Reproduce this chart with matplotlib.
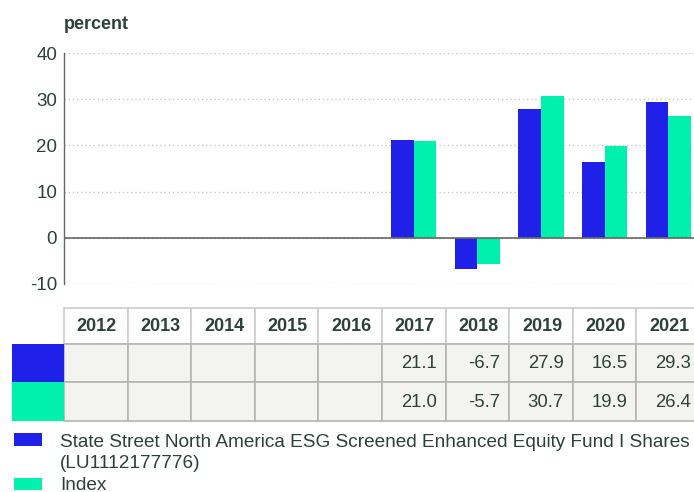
import matplotlib
matplotlib.use("Agg")
import matplotlib.pyplot as plt
from matplotlib.patches import Rectangle
import numpy as np

plt.rcParams["font.family"] = ["Liberation Sans", "DejaVu Sans"]
plt.rcParams["axes.unicode_minus"] = False

years = ["2012", "2013", "2014", "2015", "2016", "2017", "2018", "2019", "2020", "2021"]
fund = [None, None, None, None, None, 21.1, -6.7, 27.9, 16.5, 29.3]
index = [None, None, None, None, None, 21.0, -5.7, 30.7, 19.9, 26.4]
fund_label = "State Street North America ESG Screened Enhanced Equity Fund I Shares\n(LU1112177776)"
index_label = "Index"

blue = "#1f21e8"
green = "#00f0ae"
text_c = "#2c4239"
grid_c = "#c8c8c8"
cell_bg = "#f3f3ef"
cell_edge = "#b4b4b4"

W, H = 694, 492
fig = plt.figure(figsize=(W / 100, H / 100), dpi=100)


def fx(px):
    return px / W


def fy(py):
    return 1 - py / H


col_w = 63.6
x0 = 64

# bar chart (extends slightly past the right edge like the original)
ax = fig.add_axes([fx(x0), fy(284), fx(col_w * len(years)), fy(53) - fy(284)])
x = np.arange(len(years))
bw = 0.355
fv = [np.nan if v is None else v for v in fund]
iv = [np.nan if v is None else v for v in index]
ax.bar(x - bw / 2, fv, width=bw, color=blue, zorder=3)
ax.bar(x + bw / 2, iv, width=bw, color=green, zorder=3)
ax.set_xlim(-0.5, len(years) - 0.5)
ax.set_ylim(-10, 40)
ax.set_yticks([-10, 0, 10, 20, 30, 40])
ax.set_xticks([])
ax.tick_params(axis="y", length=0, labelsize=13.5, labelcolor=text_c, pad=5)
ax.grid(axis="y", color=grid_c, linestyle=(0, (1, 2)), linewidth=1, zorder=0)
ax.axhline(0, color="#666666", linewidth=1.2, zorder=4)
for s in ["top", "right", "bottom"]:
    ax.spines[s].set_visible(False)
ax.spines["left"].set_color("#666666")
ax.spines["left"].set_linewidth(1)
fig.text(fx(64), fy(29), "percent", fontsize=13, fontweight="bold", color=text_c,
         ha="left", va="baseline")

# data table below the chart
tab = fig.add_axes([0, 0, 1, 1], facecolor="none")
tab.set_xlim(0, W)
tab.set_ylim(H, 0)
tab.axis("off")
rows_y = [307.5, 343.7, 382.3, 421]
for i, yr in enumerate(years):
    cx = x0 + i * col_w
    tab.add_patch(Rectangle((cx, rows_y[0]), col_w, rows_y[1] - rows_y[0],
                            facecolor="white", edgecolor="#cccccc", linewidth=1.2))
    tab.text(cx + col_w / 2 + 1, (rows_y[0] + rows_y[1]) / 2 + 1, yr, ha="center", va="center",
             fontsize=13, fontweight="bold", color=text_c)
    for r, series in enumerate([fund, index]):
        ytop = rows_y[r + 1]
        tab.add_patch(Rectangle((cx, ytop), col_w, rows_y[r + 2] - ytop,
                                facecolor=cell_bg, edgecolor=cell_edge, linewidth=1.2))
        v = series[i]
        if v is not None:
            tab.text(cx + col_w - 9, (ytop + rows_y[r + 2]) / 2 + 1, f"{v:.1f}",
                     ha="right", va="center", fontsize=13.3, color=text_c)
for r, c in enumerate([blue, green]):
    tab.add_patch(Rectangle((12, rows_y[r + 1]), x0 - 12, rows_y[r + 2] - rows_y[r + 1],
                            facecolor=c, edgecolor="none"))

# legend
line1, line2 = fund_label.split("\n")
tab.add_patch(Rectangle((14.3, 433.3), 27.4, 12.4, facecolor=blue, edgecolor="none"))
tab.text(60, 446.7, line1, ha="left", va="baseline", fontsize=13.7, color=text_c)
tab.text(60, 467.7, line2, ha="left", va="baseline", fontsize=13.7, color=text_c)
tab.add_patch(Rectangle((14.3, 477.7), 27.4, 12.4, facecolor=green, edgecolor="none"))
tab.text(60, 489.5, index_label, ha="left", va="baseline", fontsize=13.7, color=text_c)

fig.savefig("out.png", dpi=100)
